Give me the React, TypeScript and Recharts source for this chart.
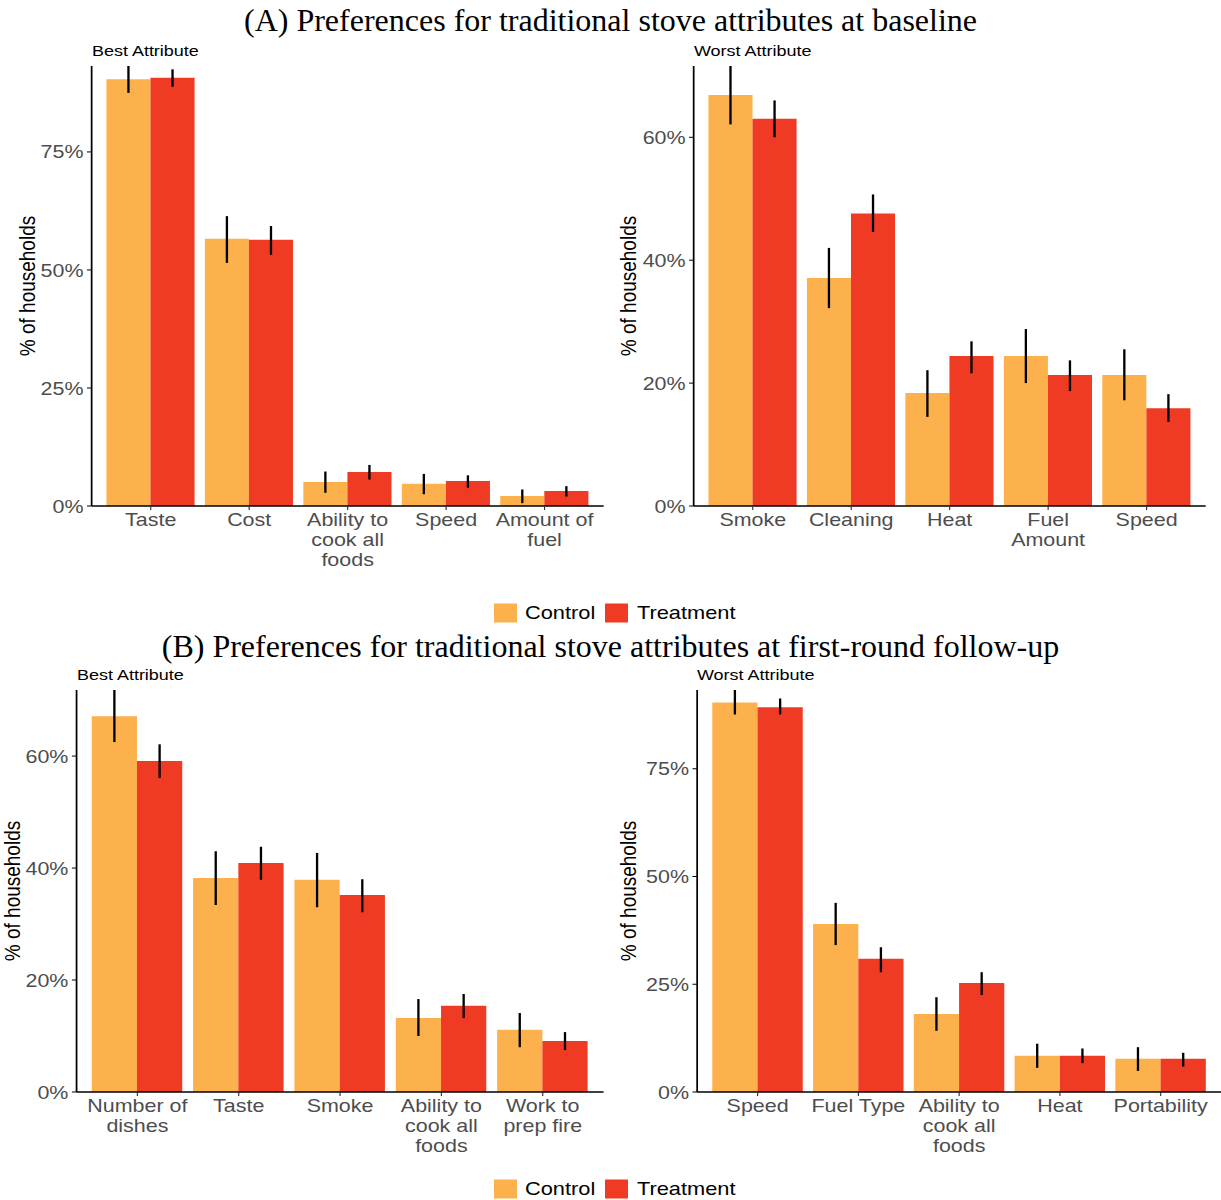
import { Bar, BarChart, ErrorBar, XAxis, YAxis } from "recharts";

// the ggplot panels in the source figure were stretched sideways, the titles were not
const S = 1.16;
const CONTROL_COLOR = "#FDB14C";
const TREAT_COLOR = "#EF3B23";
const SANS = "'Liberation Sans', Arial, sans-serif";
const SERIF = "'Liberation Serif', 'Times New Roman', serif";

// (A) baseline, best attribute
const A_BEST_CATS = ["Taste", "Cost", "Ability to\ncook all\nfoods", "Speed", "Amount of\nfuel"];
const A_BEST_CONTROL = [90.4, 56.6, 5.1, 4.7, 2.1];
const A_BEST_CONTROL_LO = [87.5, 51.5, 2.8, 2.5, 0.6];
const A_BEST_CONTROL_HI = [93.2, 61.4, 7.3, 6.8, 3.5];
const A_BEST_TREAT = [90.7, 56.4, 7.2, 5.3, 3.2];
const A_BEST_TREAT_LO = [88.8, 53.2, 5.6, 3.8, 2.0];
const A_BEST_TREAT_HI = [92.5, 59.3, 8.7, 6.5, 4.2];
const A_BEST_TICKS = [0, 25, 50, 75];

// (A) baseline, worst attribute
const A_WORST_CATS = ["Smoke", "Cleaning", "Heat", "Fuel\nAmount", "Speed"];
const A_WORST_CONTROL = [66.9, 37.1, 18.4, 24.4, 21.3];
const A_WORST_CONTROL_LO = [62.1, 32.2, 14.5, 20.0, 17.2];
const A_WORST_CONTROL_HI = [71.6, 42.0, 22.1, 28.8, 25.5];
const A_WORST_TREAT = [63.0, 47.6, 24.4, 21.3, 15.9];
const A_WORST_TREAT_LO = [60.0, 44.6, 21.6, 18.7, 13.7];
const A_WORST_TREAT_HI = [66.0, 50.7, 26.8, 23.7, 18.2];
const A_WORST_TICKS = [0, 20, 40, 60];

// (B) first-round follow-up, best attribute
const B_BEST_CATS = ["Number of\ndishes", "Taste", "Smoke", "Ability to\ncook all\nfoods", "Work to\nprep fire"];
const B_BEST_CONTROL = [67.1, 38.2, 37.9, 13.2, 11.1];
const B_BEST_CONTROL_LO = [62.5, 33.4, 33.0, 10.0, 8.0];
const B_BEST_CONTROL_HI = [71.8, 43.0, 42.7, 16.6, 14.1];
const B_BEST_TREAT = [59.1, 40.9, 35.2, 15.4, 9.1];
const B_BEST_TREAT_LO = [56.1, 37.9, 32.1, 13.2, 7.5];
const B_BEST_TREAT_HI = [62.1, 43.8, 38.0, 17.5, 10.7];
const B_BEST_TICKS = [0, 20, 40, 60];

// (B) first-round follow-up, worst attribute
const B_WORST_CATS = ["Speed", "Fuel Type", "Ability to\ncook all\nfoods", "Heat", "Portability"];
const B_WORST_CONTROL = [90.4, 39.0, 18.1, 8.4, 7.7];
const B_WORST_CONTROL_LO = [87.6, 34.1, 14.2, 5.6, 4.9];
const B_WORST_CONTROL_HI = [93.3, 43.9, 22.0, 11.2, 10.4];
const B_WORST_TREAT = [89.3, 30.9, 25.3, 8.4, 7.7];
const B_WORST_TREAT_LO = [87.6, 27.8, 22.5, 6.7, 5.9];
const B_WORST_TREAT_HI = [91.3, 33.6, 27.8, 10.1, 9.1];
const B_WORST_TICKS = [0, 25, 50, 75];

const LEGEND = ["Control", "Treatment"];

function buildRows(
  cats: string[],
  control: number[],
  controlLo: number[],
  controlHi: number[],
  treat: number[],
  treatLo: number[],
  treatHi: number[]
) {
  return cats.map((cat, i) => ({
    cat,
    control: control[i],
    controlErr: [control[i] - controlLo[i], controlHi[i] - control[i]],
    treatment: treat[i],
    treatmentErr: [treat[i] - treatLo[i], treatHi[i] - treat[i]],
  }));
}

const Y_W = 60;
const M_TOP = 4;
const M_RIGHT = 4;
const X_H = 80;

function CatTick(props: any) {
  const { x, y, payload } = props;
  const lines = String(payload.value).split("\n");
  return (
    <text x={x} y={y} textAnchor="middle" fill="#4D4D4D" fontSize={18.5} fontFamily={SANS}>
      {lines.map((l, i) => (
        <tspan key={i} x={x} dy={i === 0 ? 13.5 : 20}>
          {l}
        </tspan>
      ))}
    </text>
  );
}

type Box = { x0: number; x1: number; y0: number; y1: number };

function Panel({ rows, ticks, yMax, box }: { rows: any[]; ticks: number[]; yMax: number; box: Box }) {
  const plotW = (box.x1 - box.x0) / S;
  const plotH = box.y1 - box.y0;
  const pad = plotW / 52;
  return (
    <div style={{ position: "absolute", left: box.x0 / S - Y_W, top: box.y0 - M_TOP }}>
      <BarChart
        width={plotW + Y_W + M_RIGHT}
        height={plotH + M_TOP + X_H}
        data={rows}
        margin={{ top: M_TOP, right: M_RIGHT, left: 0, bottom: 0 }}
        barCategoryGap="5%"
        barGap={0}
      >
        <XAxis
          dataKey="cat"
          height={X_H}
          interval={0}
          padding={{ left: pad, right: pad }}
          tick={<CatTick />}
          tickSize={4}
          tickMargin={3}
          tickLine={{ stroke: "#333" }}
          axisLine={{ stroke: "#000", strokeWidth: 1.5 }}
        />
        <YAxis
          width={Y_W}
          type="number"
          domain={[0, yMax]}
          allowDataOverflow
          ticks={ticks}
          tickFormatter={(v: number) => `${v}%`}
          tick={{ fill: "#4D4D4D", fontSize: 18.5, fontFamily: SANS }}
          tickSize={4}
          tickMargin={3}
          tickLine={{ stroke: "#000" }}
          axisLine={{ stroke: "#000", strokeWidth: 1.5 }}
        />
        <Bar dataKey="control" fill={CONTROL_COLOR} isAnimationActive={false}>
          <ErrorBar dataKey="controlErr" width={0} stroke="#000" strokeWidth={2} />
        </Bar>
        <Bar dataKey="treatment" fill={TREAT_COLOR} isAnimationActive={false}>
          <ErrorBar dataKey="treatmentErr" width={0} stroke="#000" strokeWidth={2} />
        </Bar>
      </BarChart>
    </div>
  );
}

const panels = [
  {
    rows: buildRows(A_BEST_CATS, A_BEST_CONTROL, A_BEST_CONTROL_LO, A_BEST_CONTROL_HI, A_BEST_TREAT, A_BEST_TREAT_LO, A_BEST_TREAT_HI),
    ticks: A_BEST_TICKS,
    yMax: Math.max(...A_BEST_CONTROL_HI, ...A_BEST_TREAT_HI),
    box: { x0: 92, x1: 604, y0: 66, y1: 506 },
    subtitle: "Best Attribute",
    labelX: 27,
  },
  {
    rows: buildRows(A_WORST_CATS, A_WORST_CONTROL, A_WORST_CONTROL_LO, A_WORST_CONTROL_HI, A_WORST_TREAT, A_WORST_TREAT_LO, A_WORST_TREAT_HI),
    ticks: A_WORST_TICKS,
    yMax: Math.max(...A_WORST_CONTROL_HI, ...A_WORST_TREAT_HI),
    box: { x0: 694, x1: 1206, y0: 66, y1: 506 },
    subtitle: "Worst Attribute",
    labelX: 628,
  },
  {
    rows: buildRows(B_BEST_CATS, B_BEST_CONTROL, B_BEST_CONTROL_LO, B_BEST_CONTROL_HI, B_BEST_TREAT, B_BEST_TREAT_LO, B_BEST_TREAT_HI),
    ticks: B_BEST_TICKS,
    yMax: Math.max(...B_BEST_CONTROL_HI, ...B_BEST_TREAT_HI),
    box: { x0: 77, x1: 604, y0: 690, y1: 1092 },
    subtitle: "Best Attribute",
    labelX: 11.5,
  },
  {
    rows: buildRows(B_WORST_CATS, B_WORST_CONTROL, B_WORST_CONTROL_LO, B_WORST_CONTROL_HI, B_WORST_TREAT, B_WORST_TREAT_LO, B_WORST_TREAT_HI),
    ticks: B_WORST_TICKS,
    yMax: Math.max(...B_WORST_CONTROL_HI, ...B_WORST_TREAT_HI),
    box: { x0: 697, x1: 1221, y0: 690, y1: 1092 },
    subtitle: "Worst Attribute",
    labelX: 628,
  },
];

function Legend({ y }: { y: number }) {
  // y is the vertical centre of the keys
  const keys = [
    { x: 494, tx: 525, color: CONTROL_COLOR },
    { x: 605, tx: 637, color: TREAT_COLOR },
  ];
  return (
    <g>
      {keys.map((k, i) => (
        <g key={i}>
          <rect x={k.x / S} y={y - 9.5} width={23 / S} height={19} fill={k.color} />
          <text x={k.tx / S} y={y + 6.5} fontSize={18.8} fontFamily={SANS} fill="#000">
            {LEGEND[i]}
          </text>
        </g>
      ))}
    </g>
  );
}

export default function App() {
  return (
    <div style={{ position: "absolute", left: 0, top: 0, width: 1221, height: 1200, background: "#fff", overflow: "hidden" }}>
      <div style={{ position: "absolute", left: 0, top: 0, width: 1221 / S, height: 1200, transform: `scaleX(${S})`, transformOrigin: "0 0" }}>
        {panels.map((p, i) => (
          <Panel key={i} rows={p.rows} ticks={p.ticks} yMax={p.yMax} box={p.box} />
        ))}
        <svg width={1221 / S} height={1200} style={{ position: "absolute", left: 0, top: 0, pointerEvents: "none" }}>
          {panels.map((p, i) => (
            <g key={i}>
              <text x={p.box.x0 / S} y={p.box.y0 - 10} fontSize={15.5} fontFamily={SANS} fill="#000">
                {p.subtitle}
              </text>
              <text
                transform={`translate(${p.labelX / S},${(p.box.y0 + p.box.y1) / 2}) rotate(-90)`}
                textAnchor="middle"
                dominantBaseline="central"
                fontSize={19}
                fontFamily={SANS}
                fill="#000"
              >
                % of households
              </text>
            </g>
          ))}
          <Legend y={613} />
          <Legend y={1189} />
        </svg>
      </div>
      <div style={{ position: "absolute", left: 0, top: 2, width: 1221, textAlign: "center", fontFamily: SERIF, fontSize: 32, lineHeight: "36px" }}>
        (A) Preferences for traditional stove attributes at baseline
      </div>
      <div style={{ position: "absolute", left: 0, top: 628, width: 1221, textAlign: "center", fontFamily: SERIF, fontSize: 32, lineHeight: "36px" }}>
        (B) Preferences for traditional stove attributes at first-round follow-up
      </div>
    </div>
  );
}
